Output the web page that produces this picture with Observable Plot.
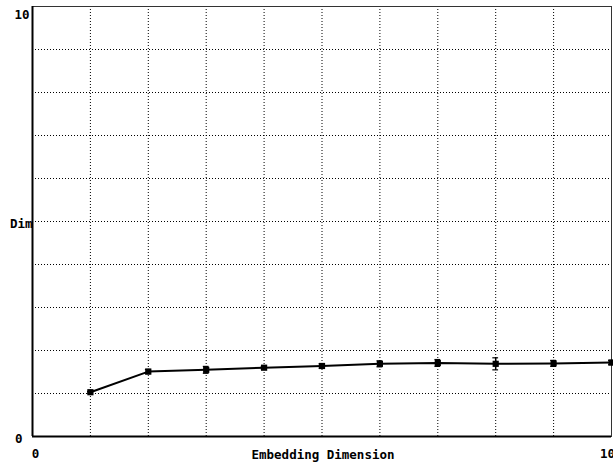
<!DOCTYPE html>
<html>
<head>
<meta charset="utf-8">
<script src="https://cdn.jsdelivr.net/npm/d3@7"></script>
<script src="https://cdn.jsdelivr.net/npm/@observablehq/plot@0.6"></script>
<style>
  html, body { margin: 0; padding: 0; background: #fff; overflow: hidden; }
  svg { overflow: visible; }
</style>
</head>
<body>
<div id="chart"></div>
<script>
const dims = [1, 2, 3, 4, 5, 6, 7, 8, 9, 10];
const values = [1.03, 1.51, 1.55, 1.60, 1.64, 1.69, 1.71, 1.69, 1.70, 1.72];
const errors = [0.02, 0.05, 0.08, 0.03, 0.05, 0.07, 0.08, 0.14, 0.07, 0.05];
const xTicks = [0, 10];
const yTicks = [0, 10];
const gridLines = [1, 2, 3, 4, 5, 6, 7, 8, 9];
const xLabel = "Embedding Dimension";
const yLabel = "Dim";

const data = dims.map((d, i) => ({x: d, y: values[i], e: errors[i]}));
const font = "'DejaVu Sans Mono', monospace";

const chart = Plot.plot({
  width: 613,
  height: 464,
  marginLeft: 32,
  marginRight: 2,
  marginTop: 6,
  marginBottom: 28,
  x: {domain: [0, 10], axis: null},
  y: {domain: [0, 10], axis: null},
  style: {fontFamily: font, fontWeight: "bold", fontSize: "12.5px", background: "#fff"},
  marks: [
    Plot.ruleX(gridLines, {stroke: "#000", strokeWidth: 1, strokeDasharray: "1,2"}),
    Plot.ruleY(gridLines, {stroke: "#000", strokeWidth: 1, strokeDasharray: "1,2"}),
    Plot.frame({stroke: "#333", strokeWidth: 1}),
    Plot.ruleX([0], {stroke: "#000", strokeWidth: 2}),
    Plot.ruleY([0], {stroke: "#000", strokeWidth: 2}),
    Plot.line(data, {x: "x", y: "y", stroke: "#000", strokeWidth: 2}),
    Plot.ruleX(data, {x: "x", y1: d => d.y - d.e, y2: d => d.y + d.e, stroke: "#000", strokeWidth: 1.5}),
    Plot.ruleY(data, {y: d => d.y - d.e, x1: d => d.x - 0.05, x2: d => d.x + 0.05, stroke: "#000", strokeWidth: 1.2}),
    Plot.ruleY(data, {y: d => d.y + d.e, x1: d => d.x - 0.05, x2: d => d.x + 0.05, stroke: "#000", strokeWidth: 1.2}),
    Plot.dot(data, {x: "x", y: "y", r: 3.5, fill: "#000", symbol: "square"}),
    // y tick labels
    Plot.text([yTicks[1]], {x: 0, y: d => d, text: d => String(d), textAnchor: "end", dx: -3, dy: 8, fill: "#000"}),
    Plot.text([yTicks[0]], {x: 0, y: d => d, text: d => String(d), textAnchor: "end", dx: -10, dy: 2, fill: "#000"}),
    // x tick labels
    Plot.text([xTicks[0]], {x: d => d, y: 0, text: d => String(d), dx: 3, dy: 17, fill: "#000"}),
    Plot.text([xTicks[1]], {x: d => d, y: 0, text: d => String(d), dx: -4, dy: 17, fill: "#000"}),
    // axis labels
    Plot.text([xLabel], {x: 5, y: 0, text: d => d, dx: 1, dy: 18, fill: "#000"}),
    Plot.text([yLabel], {x: 0, y: 5, text: d => d, textAnchor: "end", dx: 0, dy: 2, fill: "#000"})
  ]
});
document.getElementById("chart").appendChild(chart);
</script>
</body>
</html>
